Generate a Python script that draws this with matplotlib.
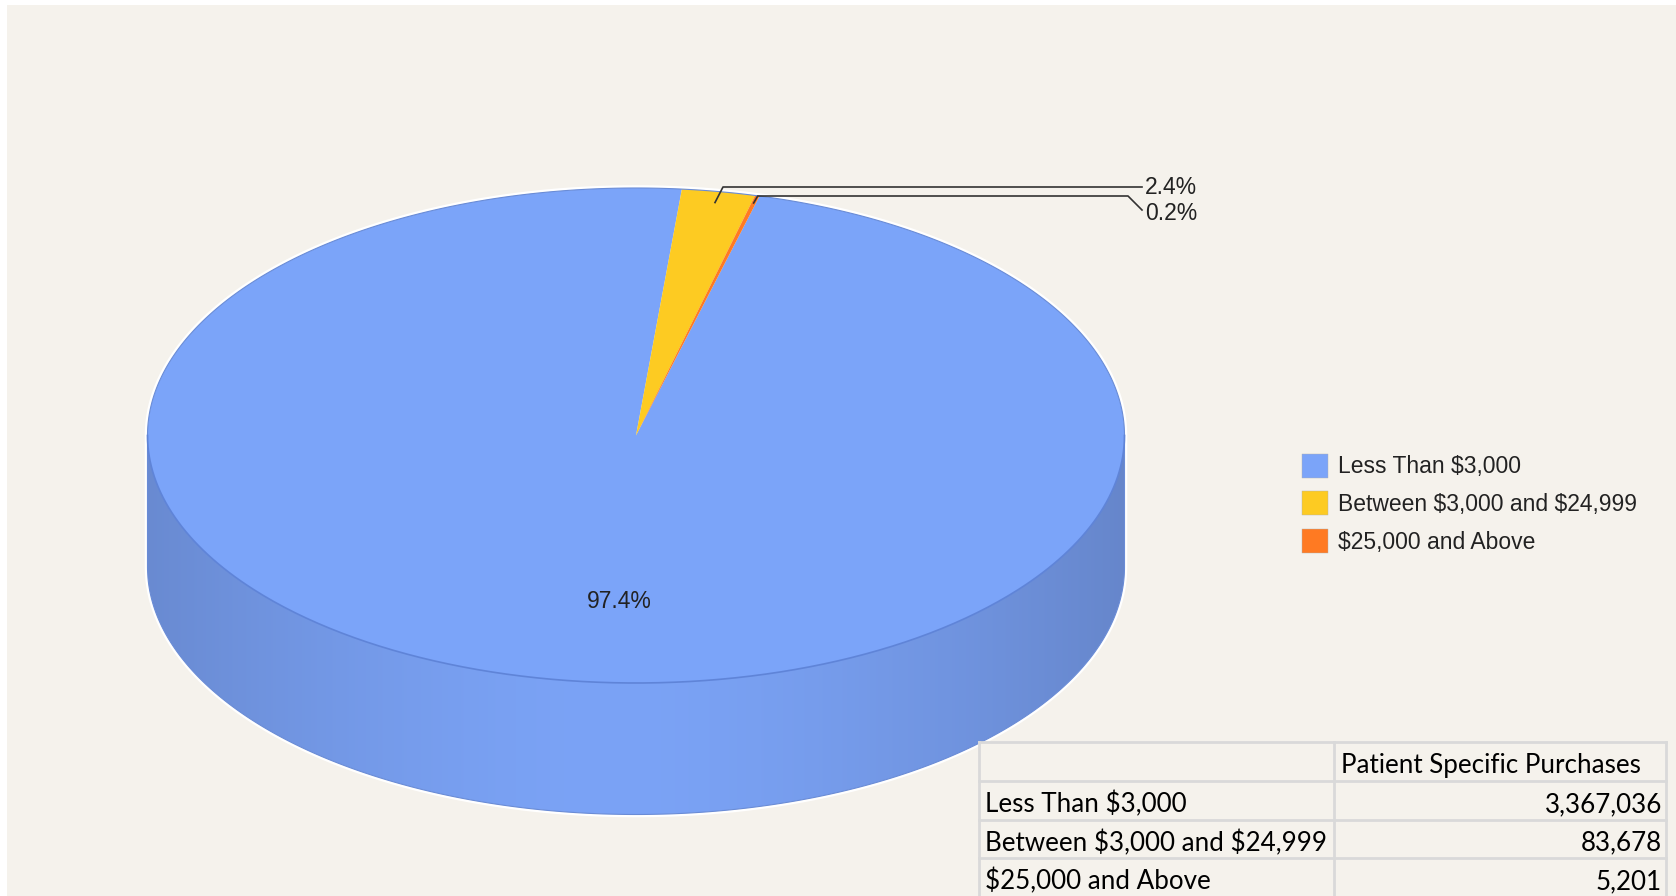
import numpy as np
import matplotlib.pyplot as plt
from matplotlib.patches import Polygon, Rectangle

plt.rcParams["text.parse_math"] = False

categories = ["Less Than $3,000", "Between $3,000 and $24,999", "$25,000 and Above"]
purchases = [3367036, 83678, 5201]
colors = ["#7BA4F9", "#FDCB22", "#FF7A22"]
column_header = "Patient Specific Purchases"

W, H = 1676, 896
BG = "#F5F2EC"
# pie geometry in pixels: centre, radii of the top ellipse, wall depth
CX, CY, RX, RY, DEPTH = 636, 435.5, 488.5, 247.5, 131.5
START = 75.35
LBL = 16.5

total = sum(purchases)
pct = [v / total * 100 for v in purchases]

fig = plt.figure(figsize=(W / 100, H / 100), dpi=100)
fig.patch.set_facecolor("white")

bg = fig.add_axes([0, 0, 1, 1], zorder=0)
bg.set_xlim(0, W)
bg.set_ylim(H, 0)
bg.axis("off")
bg.add_patch(Rectangle((7, 5), W - 7, H - 5, facecolor=BG, edgecolor="none"))

# pie axes: unit circle maps onto the squashed ellipse
ax = fig.add_axes([0, 0, 1, 1], zorder=1)
ax.patch.set_alpha(0)
wedges, _ = ax.pie(purchases, colors=colors, startangle=START, counterclock=False,
                   radius=1, center=(0, 0),
                   wedgeprops=dict(linewidth=0, zorder=3))
ax.set_aspect("auto")
ax.axis("off")

d = DEPTH / RY
t = np.linspace(np.pi, 2 * np.pi, 300)
wall = np.concatenate([np.c_[np.cos(t), np.sin(t)],
                       np.c_[np.cos(t[::-1]), np.sin(t[::-1]) - d]])
wall_patch = Polygon(wall, closed=True, facecolor="none", edgecolor="none")
ax.add_patch(wall_patch)

xs = np.linspace(-1, 1, 500)
k = np.clip(np.abs(xs + 0.05) / 1.05, 0, 1) ** 1.6
light = np.array([0x7B, 0xA3, 0xF6]) / 255
dark = np.array([0x66, 0x86, 0xCB]) / 255
grad = light[None, :] * (1 - k[:, None]) + dark[None, :] * k[:, None]
img = ax.imshow(grad[None, :, :], extent=(-1, 1, -1 - d, 0), aspect="auto",
                zorder=2, interpolation="bilinear")
img.set_clip_path(wall_patch)
ax.set_xlim(-CX / RX, (W - CX) / RX)
ax.set_ylim((CY - H) / RY, CY / RY)

# white halo around the silhouette
tu = np.linspace(0, np.pi, 300)
sil = np.concatenate([np.c_[np.cos(tu), np.sin(tu)],
                      np.c_[np.cos(t), np.sin(t) - d]])
ax.add_patch(Polygon(sil, closed=True, facecolor="none", edgecolor="white",
                     linewidth=4, zorder=1.5))
ax.add_patch(Polygon(sil, closed=True, facecolor="none", edgecolor="#6A8CD6",
                     linewidth=0.8, zorder=4))
ax.plot(np.cos(t), np.sin(t), color="#5F84D8", linewidth=1.2, zorder=4)

ax.text(-0.035, -0.672, f"{pct[0]:.1f}%", ha="center", va="center",
        fontsize=LBL, family="Liberation Sans", color="#222222", zorder=5)

# overlay in pixel coordinates
ov = fig.add_axes([0, 0, 1, 1], zorder=2)
ov.patch.set_alpha(0)
ov.set_xlim(0, W)
ov.set_ylim(H, 0)
ov.axis("off")


def anchor(w, r):
    a = np.deg2rad((w.theta1 + w.theta2) / 2)
    return CX + r * RX * np.cos(a), CY - r * RY * np.sin(a)


lc = "#333333"
x0, y0 = anchor(wedges[1], 0.955)
ov.plot([x0, x0 + 8, 1142], [y0, 187, 187], color=lc, linewidth=1.2)
ov.text(1145, 188, f"{pct[1]:.1f}%", ha="left", va="center", fontsize=LBL,
        family="Liberation Sans", color="#222222")
x1, y1 = anchor(wedges[2], 0.97)
ov.plot([x1, x1 + 4, 1128, 1142], [y1, 196, 196, 210], color=lc, linewidth=1.2)
ov.text(1145, 213, f"{pct[2]:.1f}%", ha="left", va="center", fontsize=LBL,
        family="Liberation Sans", color="#222222")

# legend
for i, (name, c) in enumerate(zip(categories, colors)):
    yc = 466 + i * 37.5
    ov.add_patch(Rectangle((1302, yc - 12), 26, 24, facecolor=c,
                           edgecolor="#B0B0B0", linewidth=0.3))
    ov.text(1338, yc + 1, name, ha="left", va="center", fontsize=LBL,
            family="Liberation Sans", color="#222222")

# data table
cols = [979, 1334, 1666]
rows = [742, 781, 820, 858, 897]
ov.add_patch(Rectangle((cols[0], rows[0]), cols[-1] - cols[0], rows[-1] - rows[0],
                       facecolor=BG, edgecolor="none", zorder=1))
for yy in rows:
    ov.plot([cols[0], cols[-1]], [yy, yy], color="#D9D9D9", linewidth=2, zorder=2)
for xx in cols:
    ov.plot([xx, xx], [rows[0], rows[-1]], color="#D9D9D9", linewidth=2, zorder=2)

tf = dict(fontsize=18.7, family="Lato", color="#000000", va="center", zorder=3)
ov.text(cols[1] + 7, (rows[0] + rows[1]) / 2 + 4, column_header, ha="left", **tf)
for i, (name, v) in enumerate(zip(categories, purchases)):
    ym = (rows[i + 1] + rows[i + 2]) / 2 + 4
    ov.text(cols[0] + 6, ym, name, ha="left", **tf)
    ov.text(cols[2] - 4, ym, f"{v:,}", ha="right", **tf)

fig.savefig("out.png", dpi=100, facecolor=fig.get_facecolor())
